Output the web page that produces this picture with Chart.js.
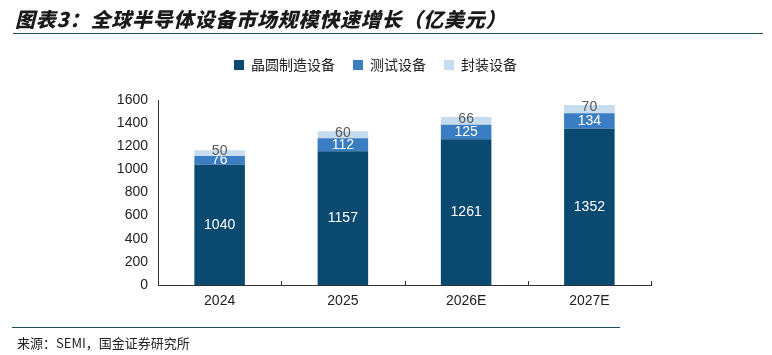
<!DOCTYPE html>
<html><head><meta charset="utf-8">
<script src="https://cdn.jsdelivr.net/npm/chart.js@4/dist/chart.umd.min.js"></script>
<style>
html,body{margin:0;padding:0;background:#fff;}
#wrap{position:relative;width:772px;height:355px;overflow:hidden;}
#title{position:absolute;left:15px;top:4px;font-family:"Noto Sans CJK SC",sans-serif;font-weight:900;font-style:italic;font-size:20px;color:#1a1a1a;letter-spacing:0.8px;white-space:nowrap;}
#tline{position:absolute;left:13px;top:33px;width:750px;height:0;border-top:1.5px solid #1f4e5f;}
#bline{position:absolute;left:12px;top:327px;width:608px;height:0;border-top:1px solid #1f4e5f;}
#src{position:absolute;left:17px;top:333px;font-family:"Noto Sans CJK SC",sans-serif;font-size:13px;color:#222;white-space:nowrap;}
canvas{position:absolute;left:0;top:0;}
</style></head>
<body><div id="wrap">
<canvas id="c" width="772" height="355"></canvas>
<div id="title">图表3：全球半导体设备市场规模快速增长（亿美元）</div>
<div id="tline"></div>
<div id="bline"></div>
<div id="src">来源：SEMI，国金证券研究所</div>
</div>
<script>
const categories = ["2024", "2025", "2026E", "2027E"];
const seriesNames = ["晶圆制造设备", "测试设备", "封装设备"];
const waferFab = [1040, 1157, 1261, 1352];
const testEquip = [76, 112, 125, 134];
const packaging = [50, 60, 66, 70];
const yTicks = [0, 200, 400, 600, 800, 1000, 1200, 1400, 1600];

const colors = ["#0b4a70", "#3b7dc2", "#c8dcef"];
const labelColors = ["#ffffff", "#ffffff", "#595959"];

const labelPlugin = {
  id: "barLabels",
  afterDatasetsDraw(chart) {
    const ctx = chart.ctx;
    ctx.save();
    ctx.font = "14px 'Liberation Sans', Arial, sans-serif";
    ctx.textAlign = "center";
    ctx.textBaseline = "middle";
    chart.data.datasets.forEach((ds, di) => {
      const meta = chart.getDatasetMeta(di);
      meta.data.forEach((bar, i) => {
        const mid = (bar.y + bar.base) / 2 - (di === 2 ? 2 : 0);
        ctx.fillStyle = labelColors[di];
        ctx.fillText(String(ds.data[i]), bar.x, mid);
      });
    });
    ctx.restore();
  }
};

const axisTicks = {
  id: "axisTicks",
  afterDraw(chart) {
    const ctx = chart.ctx, a = chart.chartArea;
    ctx.save();
    ctx.strokeStyle = "#333"; ctx.lineWidth = 1;
    const n = categories.length;
    const step = (a.right - a.left) / n;
    for (let i = 1; i <= n; i++) {
      const px = Math.round(a.left + step * i) + 0.5;
      ctx.beginPath(); ctx.moveTo(px, a.bottom); ctx.lineTo(px, a.bottom - 4); ctx.stroke();
    }
    ctx.restore();
  }
};

const legendGap = {
  id: "legendGap",
  beforeInit(chart) {
    if (!chart.legend) return;
    const orig = chart.legend.fit;
    chart.legend.fit = function () { orig.call(this); this.height += 18; };
  }
};

new Chart(document.getElementById("c"), {
  type: "bar",
  data: {
    labels: categories,
    datasets: [
      { label: seriesNames[0], data: waferFab, backgroundColor: colors[0] },
      { label: seriesNames[1], data: testEquip, backgroundColor: colors[1] },
      { label: seriesNames[2], data: packaging, backgroundColor: colors[2] }
    ]
  },
  options: {
    responsive: false,
    animation: false,
    layout: { padding: { left: 100, right: 121, top: 40, bottom: 40 } },
    datasets: { bar: { categoryPercentage: 1.0, barPercentage: 0.41 } },
    plugins: {
      legend: {
        position: "top",
        labels: {
          boxWidth: 10, boxHeight: 10, padding: 18,
          color: "#222",
          font: { family: "'Noto Sans CJK SC', sans-serif", size: 14 }
        }
      },
      tooltip: { enabled: false }
    },
    scales: {
      x: {
        stacked: true,
        grid: { display: false, drawTicks: false },
        border: { display: true, color: "#333", width: 1 },
        ticks: { color: "#222", padding: 8, font: { family: "'Liberation Sans', Arial, sans-serif", size: 14 } },
        afterFit(s) { s.height = 30; }
      },
      y: {
        stacked: true,
        min: 0, max: 1600,
        afterBuildTicks(s) { s.ticks = yTicks.map(v => ({ value: v })); },
        grid: { display: false, drawTicks: false },
        border: { display: true, color: "#333", width: 1 },
        ticks: { color: "#222", padding: 10, font: { family: "'Liberation Sans', Arial, sans-serif", size: 14 },
                 callback: (v) => String(v) },
        afterFit(s) { s.width = 58; }
      }
    }
  },
  plugins: [labelPlugin, axisTicks, legendGap]
});
</script>
</body></html>
